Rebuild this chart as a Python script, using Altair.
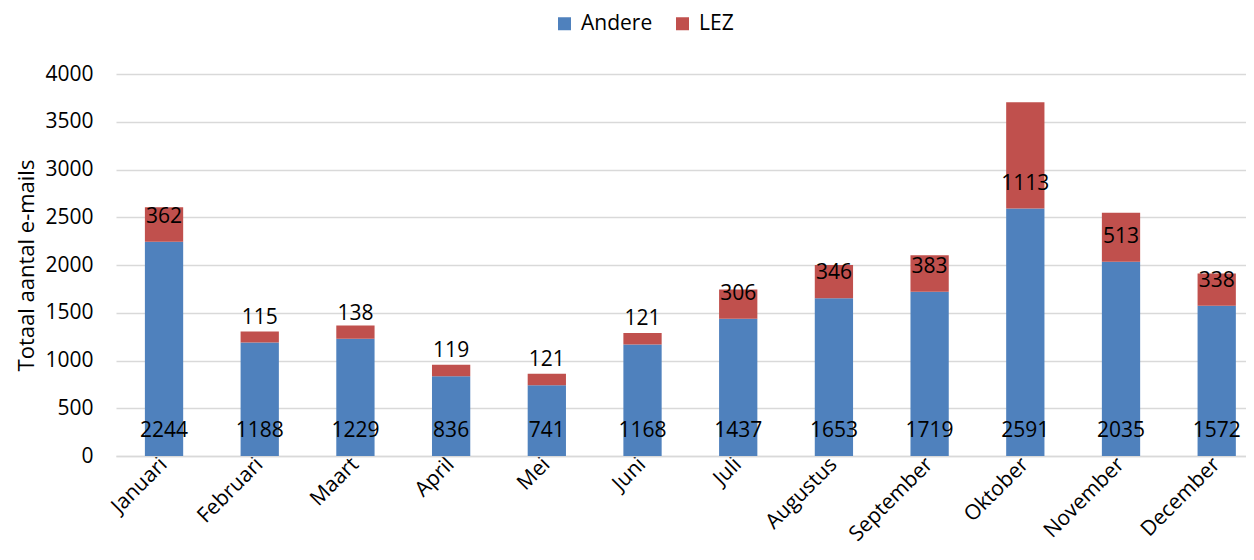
import altair as alt
import pandas as pd

months = ["Januari", "Februari", "Maart", "April", "Mei", "Juni", "Juli",
          "Augustus", "September", "Oktober", "November", "December"]
andere = [2244, 1188, 1229, 836, 741, 1168, 1437, 1653, 1719, 2591, 2035, 1572]
lez = [362, 115, 138, 119, 121, 121, 306, 346, 383, 1113, 513, 338]
series = ["Andere", "LEZ"]
colors = ["#4F81BD", "#C0504D"]
y_ticks = [0, 500, 1000, 1500, 2000, 2500, 3000, 3500, 4000]

rows = []
for i, m in enumerate(months):
    rows.append({"maand": m, "reeks": series[0], "aantal": andere[i], "volg": 0})
    rows.append({"maand": m, "reeks": series[1], "aantal": lez[i], "volg": 1})
df = pd.DataFrame(rows)

FONT = "Open Sans"
FS = 21

base = alt.Chart(df).transform_stack(
    stack="aantal", as_=["y0", "y1"], groupby=["maand"],
    sort=[alt.SortField("volg", order="ascending")]
)

xscale = alt.Scale(paddingInner=0.6, paddingOuter=0.204, align=0.74)
yscale = alt.Scale(domain=[0, 4000], nice=False)

xaxis = alt.Axis(title=None, labelAngle=-45, labelAlign="right",
                 labelBaseline="middle", ticks=False,
                 domainColor="#d9d9d9", domainWidth=1.5,
                 labelPadding=5, labelFontSize=FS,
                 labelColor="black", grid=False)
yaxis = alt.Axis(title="Totaal aantal e-mails", values=y_ticks,
                 format="d", ticks=False, domain=False,
                 gridColor="#d9d9d9", gridWidth=1.5,
                 labelPadding=23, labelFontSize=FS,
                 labelColor="black", titleFontSize=22,
                 titleFontWeight="normal", titleColor="black",
                 titlePadding=6)

bars = base.mark_bar().encode(
    x=alt.X("maand:N", sort=months, scale=xscale, axis=xaxis),
    y=alt.Y("y1:Q", scale=yscale, axis=yaxis),
    y2="y0:Q",
    color=alt.Color("reeks:N", scale=alt.Scale(domain=series, range=colors),
                    legend=alt.Legend(title=None, orient="none",
                                      legendX=438, legendY=-61,
                                      direction="horizontal",
                                      symbolType="square", symbolSize=169,
                                      symbolStrokeWidth=0,
                                      labelFontSize=FS, labelColor="black",
                                      labelOffset=6, columnPadding=19,
                                      padding=0)),
)

labels = base.mark_text(dy=-25, fontSize=FS, font=FONT, color="black",
                        baseline="middle", align="center").encode(
    x=alt.X("maand:N", sort=months, scale=xscale, axis=xaxis),
    y=alt.Y("y0:Q", scale=yscale, axis=yaxis),
    text=alt.Text("aantal:Q", format="d"),
)

chart = alt.layer(bars, labels).properties(
    width=1130, height=382,
    autosize=alt.AutoSizeParams(type="none"),
    padding={"left": 108, "top": 66, "right": 0, "bottom": 94},
).configure(font=FONT).configure_view(stroke=None)

chart.save("out.html", embed_options={"renderer": "svg", "actions": False})
